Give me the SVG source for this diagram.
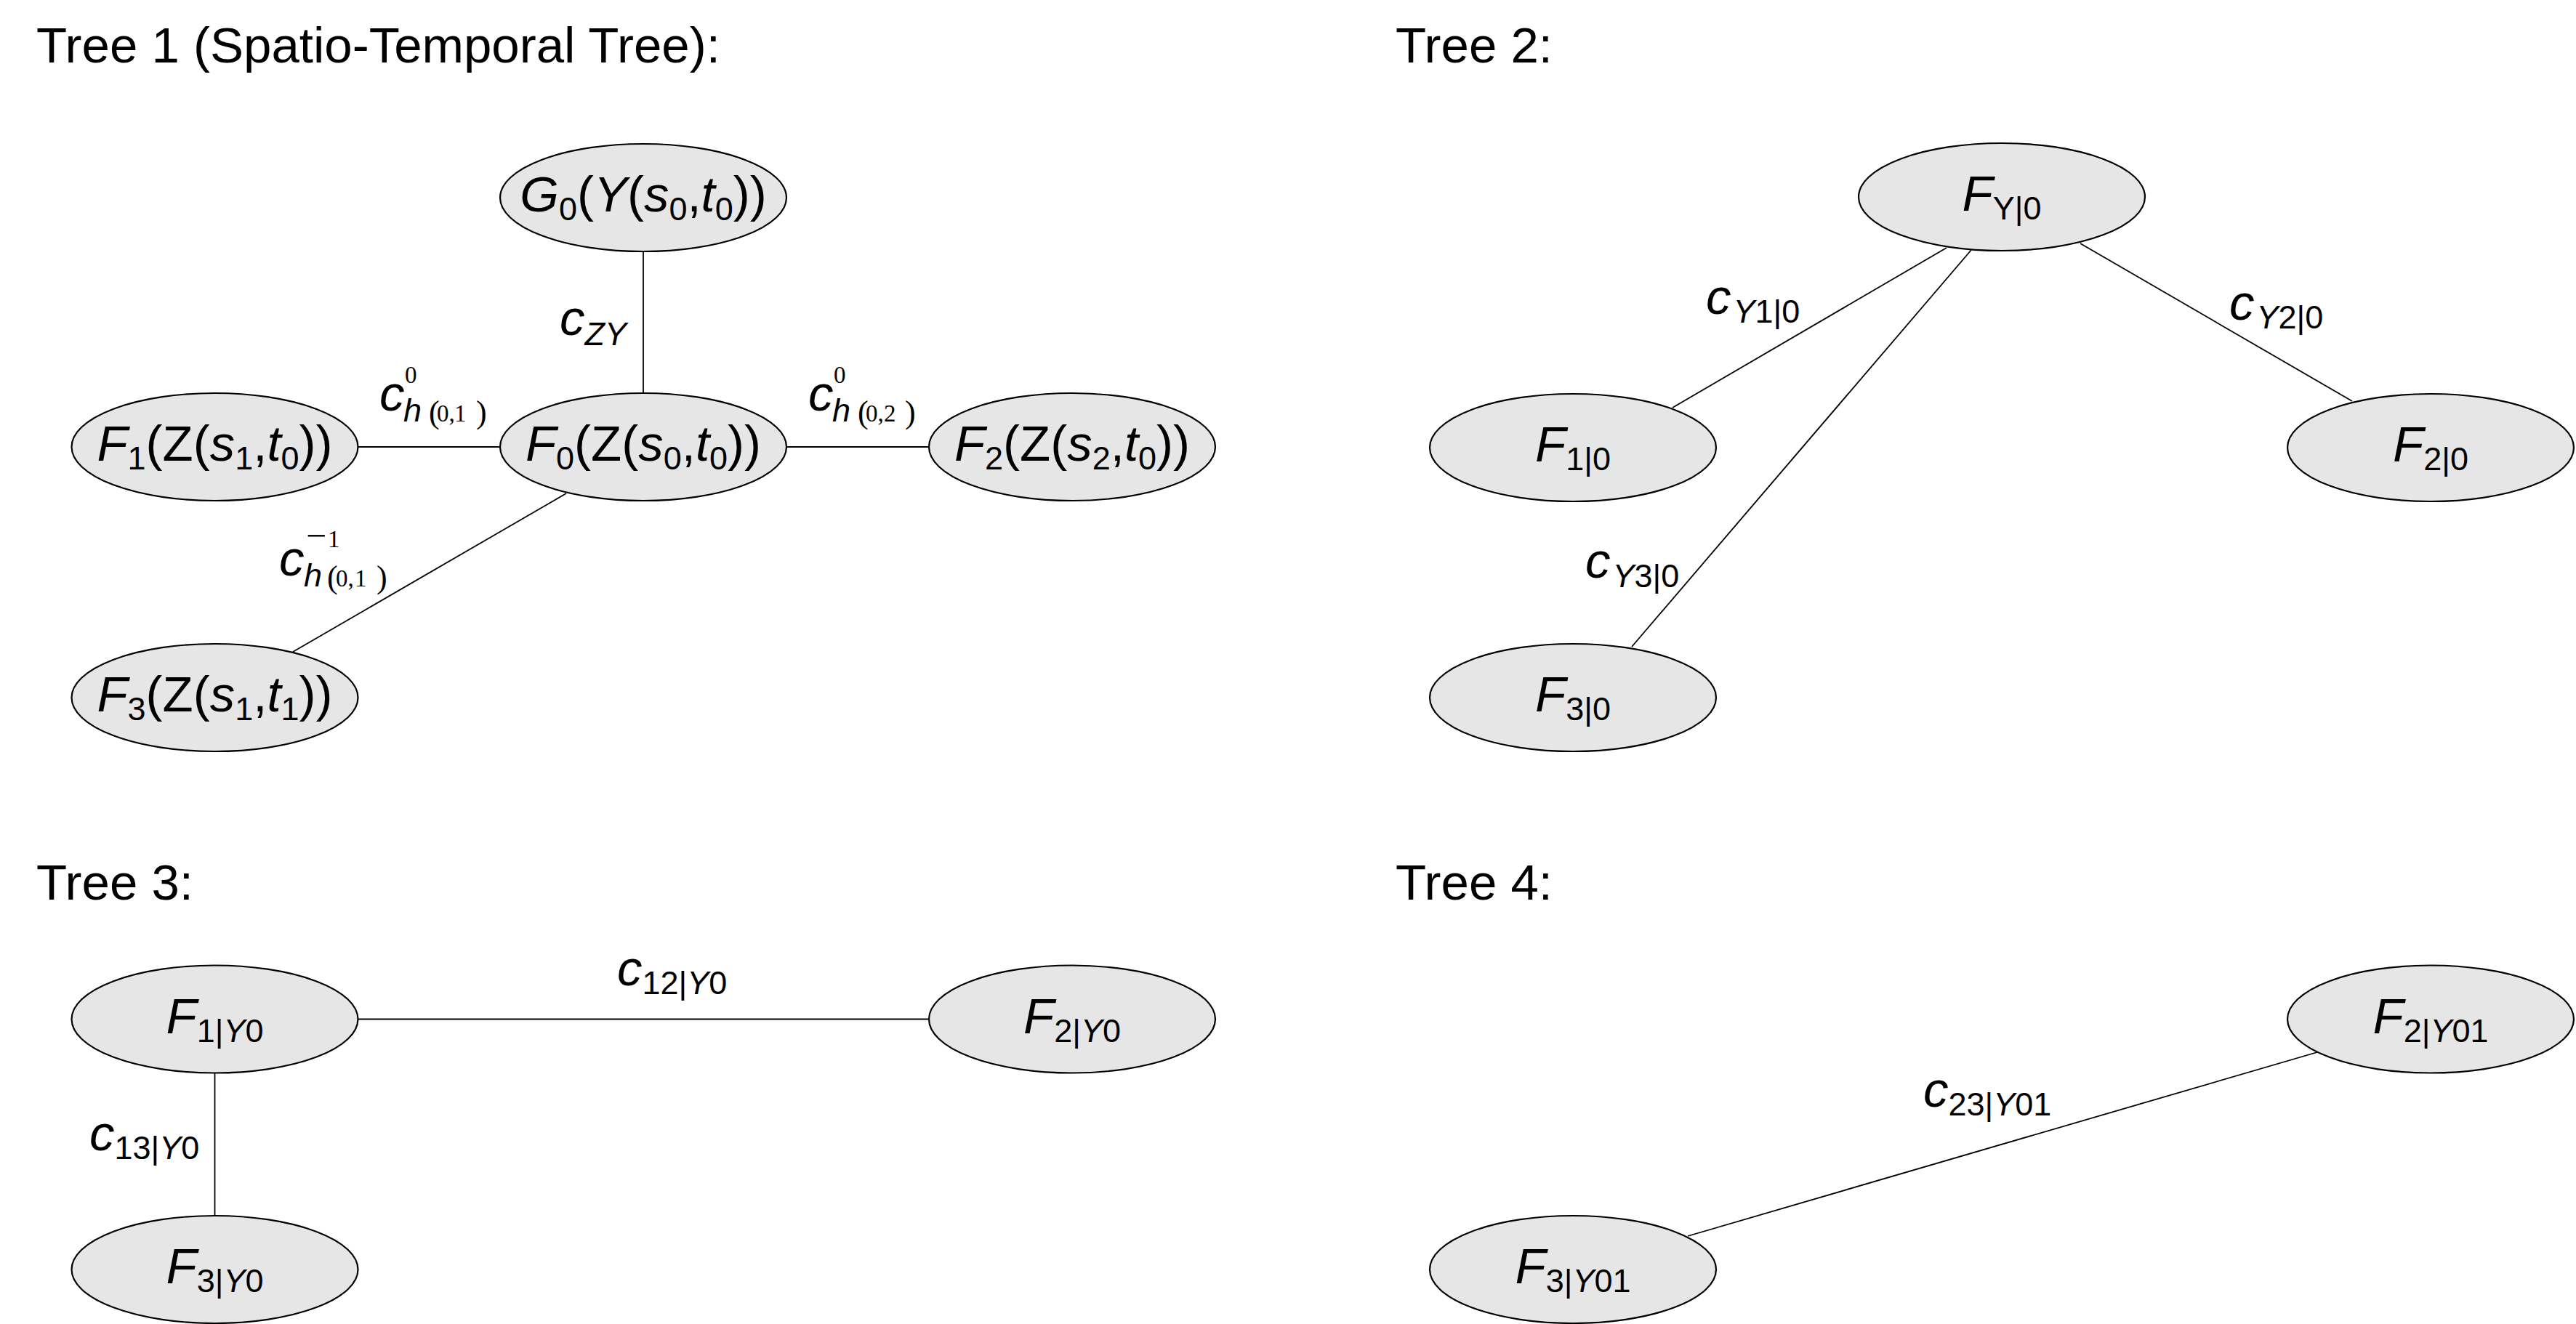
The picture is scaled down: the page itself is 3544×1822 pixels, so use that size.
<svg xmlns="http://www.w3.org/2000/svg" width="3544" height="1822" viewBox="0 0 3544 1822">
<style>
text{font-family:"Liberation Sans",Arial,sans-serif;fill:#000}
.title{font-size:69px}
.nl{font-size:69px;text-anchor:middle}
.lb{font-size:69px}
.i{font-style:italic}
.sb{font-size:45px}
.tm{font-family:"Liberation Serif","Times New Roman",serif;font-style:normal}
.sp{font-size:33px}
.pr{font-size:44px}
.mn{font-size:50px}
.node ellipse{fill:#e6e6e6;stroke:#000;stroke-width:2.2}
#connectors line{stroke:#000;stroke-width:1.8}
</style>
<rect width="3544" height="1822" fill="#fff"/>

<g id="titles">
<text class="title" x="50" y="86">Tree 1 (Spatio-Temporal Tree):</text>
<text class="title" x="1920" y="86">Tree 2:</text>
<text class="title" x="50" y="1238">Tree 3:</text>
<text class="title" x="1920" y="1238">Tree 4:</text>
</g>

<g id="connectors">
<line x1="885" y1="346" x2="885" y2="541"/>
<line x1="492" y1="615" x2="688" y2="615"/>
<line x1="1082" y1="615" x2="1279" y2="615"/>
<line x1="779" y1="679" x2="403" y2="897"/>
<line x1="2678" y1="341" x2="2301" y2="561"/>
<line x1="2712" y1="344" x2="2245" y2="890"/>
<line x1="2862" y1="335" x2="3236" y2="552"/>
<line x1="492" y1="1402.5" x2="1279" y2="1402.5"/>
<line x1="295.5" y1="1476" x2="295.5" y2="1673"/>
<line x1="2322" y1="1701" x2="3188" y2="1448"/>
</g>

<g id="edge-labels">
<text id="lbl-cZY" class="lb" x="770" y="461"><tspan class="i">c</tspan><tspan class="sb i" dy="14">ZY</tspan></text>
<text id="lbl-c0h01" class="lb"><tspan class="i" x="522" y="565">c</tspan><tspan class="tm sp" x="557" y="527">0</tspan><tspan class="i sb" x="555" y="580">h</tspan><tspan class="tm pr" x="590" y="582">(</tspan><tspan class="tm sp" x="601" y="580">0,</tspan><tspan class="tm sp" x="625" y="580">1</tspan><tspan class="tm pr" x="655" y="582">)</tspan></text>
<text id="lbl-c0h02" class="lb"><tspan class="i" x="1112" y="565">c</tspan><tspan class="tm sp" x="1147" y="527">0</tspan><tspan class="i sb" x="1145" y="580">h</tspan><tspan class="tm pr" x="1180" y="582">(</tspan><tspan class="tm sp" x="1191" y="580">0,</tspan><tspan class="tm sp" x="1216" y="580">2</tspan><tspan class="tm pr" x="1245" y="582">)</tspan></text>
<text id="lbl-cm1h01" class="lb"><tspan class="i" x="384" y="792">c</tspan><tspan class="tm mn" x="421" y="754">−</tspan><tspan class="tm sp" x="451" y="753">1</tspan><tspan class="i sb" x="418" y="807">h</tspan><tspan class="tm pr" x="450" y="809">(</tspan><tspan class="tm sp" x="462" y="807">0,</tspan><tspan class="tm sp" x="488" y="807">1</tspan><tspan class="tm pr" x="518" y="809">)</tspan></text>
<text id="lbl-cY10" class="lb" x="2347" y="432"><tspan class="i">c</tspan><tspan class="sb i" dy="12" dx="3">Y</tspan><tspan class="sb">1|0</tspan></text>
<text id="lbl-cY20" class="lb" x="3067" y="440"><tspan class="i">c</tspan><tspan class="sb i" dy="12" dx="3">Y</tspan><tspan class="sb">2|0</tspan></text>
<text id="lbl-cY30" class="lb" x="2181" y="795"><tspan class="i">c</tspan><tspan class="sb i" dy="13" dx="3">Y</tspan><tspan class="sb">3|0</tspan></text>
<text id="lbl-c12Y0" class="lb" x="849" y="1356"><tspan class="i">c</tspan><tspan class="sb" dy="12">12|</tspan><tspan class="sb i">Y</tspan><tspan class="sb">0</tspan></text>
<text id="lbl-c13Y0" class="lb" x="123" y="1583"><tspan class="i">c</tspan><tspan class="sb" dy="12">13|</tspan><tspan class="sb i">Y</tspan><tspan class="sb">0</tspan></text>
<text id="lbl-c23Y01" class="lb" x="2646" y="1523"><tspan class="i">c</tspan><tspan class="sb" dy="12">23|</tspan><tspan class="sb i">Y</tspan><tspan class="sb">01</tspan></text>
</g>

<g id="node-G0" class="node">
<ellipse cx="885" cy="272" rx="197" ry="74"/>
<text class="nl" x="885" y="291"><tspan class="i">G</tspan><tspan class="sb" dy="12">0</tspan><tspan dy="-12">(</tspan><tspan class="i">Y</tspan><tspan>(</tspan><tspan class="i">s</tspan><tspan class="sb" dy="12">0</tspan><tspan dy="-12">,</tspan><tspan class="i">t</tspan><tspan class="sb" dy="12">0</tspan><tspan dy="-12">))</tspan></text>
</g>
<g id="node-F0" class="node">
<ellipse cx="885" cy="615" rx="197" ry="74"/>
<text class="nl" x="885" y="634"><tspan class="i">F</tspan><tspan class="sb" dy="12">0</tspan><tspan dy="-12">(Z(</tspan><tspan class="i">s</tspan><tspan class="sb" dy="12">0</tspan><tspan dy="-12">,</tspan><tspan class="i">t</tspan><tspan class="sb" dy="12">0</tspan><tspan dy="-12">))</tspan></text>
</g>
<g id="node-F1" class="node">
<ellipse cx="295.5" cy="615" rx="197" ry="74"/>
<text class="nl" x="295.5" y="634"><tspan class="i">F</tspan><tspan class="sb" dy="12">1</tspan><tspan dy="-12">(Z(</tspan><tspan class="i">s</tspan><tspan class="sb" dy="12">1</tspan><tspan dy="-12">,</tspan><tspan class="i">t</tspan><tspan class="sb" dy="12">0</tspan><tspan dy="-12">))</tspan></text>
</g>
<g id="node-F2" class="node">
<ellipse cx="1475" cy="615" rx="197" ry="74"/>
<text class="nl" x="1475" y="634"><tspan class="i">F</tspan><tspan class="sb" dy="12">2</tspan><tspan dy="-12">(Z(</tspan><tspan class="i">s</tspan><tspan class="sb" dy="12">2</tspan><tspan dy="-12">,</tspan><tspan class="i">t</tspan><tspan class="sb" dy="12">0</tspan><tspan dy="-12">))</tspan></text>
</g>
<g id="node-F3" class="node">
<ellipse cx="295.5" cy="960" rx="197" ry="74"/>
<text class="nl" x="295.5" y="979"><tspan class="i">F</tspan><tspan class="sb" dy="12">3</tspan><tspan dy="-12">(Z(</tspan><tspan class="i">s</tspan><tspan class="sb" dy="12">1</tspan><tspan dy="-12">,</tspan><tspan class="i">t</tspan><tspan class="sb" dy="12">1</tspan><tspan dy="-12">))</tspan></text>
</g>

<g id="node-FY0" class="node">
<ellipse cx="2754" cy="271" rx="197" ry="74"/>
<text class="nl" x="2754" y="290"><tspan class="i">F</tspan><tspan class="sb" dy="12">Y|0</tspan></text>
</g>
<g id="node-F10" class="node">
<ellipse cx="2164" cy="616" rx="197" ry="74"/>
<text class="nl" x="2164" y="635"><tspan class="i">F</tspan><tspan class="sb" dy="12">1|0</tspan></text>
</g>
<g id="node-F20" class="node">
<ellipse cx="3344" cy="616" rx="197" ry="74"/>
<text class="nl" x="3344" y="635"><tspan class="i">F</tspan><tspan class="sb" dy="12">2|0</tspan></text>
</g>
<g id="node-F30" class="node">
<ellipse cx="2164" cy="960" rx="197" ry="74"/>
<text class="nl" x="2164" y="979"><tspan class="i">F</tspan><tspan class="sb" dy="12">3|0</tspan></text>
</g>

<g id="node-F1Y0" class="node">
<ellipse cx="295.5" cy="1402.5" rx="197" ry="74"/>
<text class="nl" x="295.5" y="1421.5"><tspan class="i">F</tspan><tspan class="sb" dy="12">1|</tspan><tspan class="sb i">Y</tspan><tspan class="sb">0</tspan></text>
</g>
<g id="node-F2Y0" class="node">
<ellipse cx="1475" cy="1402.5" rx="197" ry="74"/>
<text class="nl" x="1475" y="1421.5"><tspan class="i">F</tspan><tspan class="sb" dy="12">2|</tspan><tspan class="sb i">Y</tspan><tspan class="sb">0</tspan></text>
</g>
<g id="node-F3Y0" class="node">
<ellipse cx="295.5" cy="1747" rx="197" ry="74"/>
<text class="nl" x="295.5" y="1766"><tspan class="i">F</tspan><tspan class="sb" dy="12">3|</tspan><tspan class="sb i">Y</tspan><tspan class="sb">0</tspan></text>
</g>

<g id="node-F2Y01" class="node">
<ellipse cx="3344" cy="1402.5" rx="197" ry="74"/>
<text class="nl" x="3344" y="1421.5"><tspan class="i">F</tspan><tspan class="sb" dy="12">2|</tspan><tspan class="sb i">Y</tspan><tspan class="sb">01</tspan></text>
</g>
<g id="node-F3Y01" class="node">
<ellipse cx="2164" cy="1747" rx="197" ry="74"/>
<text class="nl" x="2164" y="1766"><tspan class="i">F</tspan><tspan class="sb" dy="12">3|</tspan><tspan class="sb i">Y</tspan><tspan class="sb">01</tspan></text>
</g>
</svg>
